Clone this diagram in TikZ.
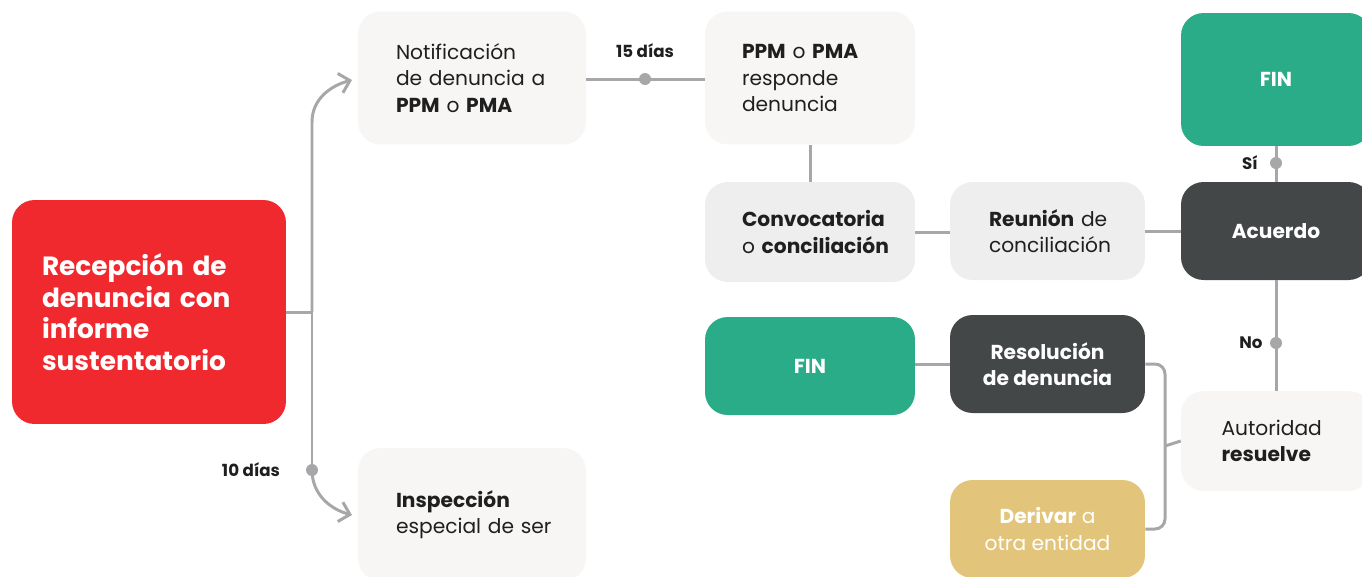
\documentclass[tikz,border=0pt]{standalone}
\usepackage{fontspec}
\setmainfont{Poppins}
\usepackage{xcolor}
\definecolor{flowRed}{HTML}{F0292E}
\definecolor{flowGreen}{HTML}{2BAC88}
\definecolor{flowDark}{HTML}{434748}
\definecolor{flowGold}{HTML}{E2C47A}
\definecolor{flowLight}{HTML}{F7F6F4}
\definecolor{flowMist}{HTML}{EFEEEE}
\definecolor{flowLine}{HTML}{A7A7AA}
\definecolor{flowText}{HTML}{1F1F1F}
\usepackage{tikz}
\usetikzlibrary{arrows.meta,positioning,calc}
\tikzset{
    stage/.style={
        rectangle,
        rounded corners=0.45cm,
        inner sep=0pt,
        align=left,
        text=flowText,
        execute at begin node={\hyphenpenalty=10000},
        font=\fontsize{11.5}{15}\selectfont
    },
    light/.style={stage, fill=flowLight},
    mist/.style={stage, fill=flowMist},
    dark/.style={stage, fill=flowDark, text=white, align=center, font=\fontsize{11.5}{15}\selectfont\bfseries},
    finbox/.style={stage, fill=flowGreen, text=white, align=center, font=\fontsize{11.5}{15}\selectfont\bfseries},
    link/.style={
        line width=1.7pt,
        color=flowLine
    },
    arrow/.style={
        link,
        -{Straight Barb[length=0.2cm,width=0.4cm,line width=1.7pt]}
    },
    stop/.style={
        circle,
        fill=flowLine,
        inner sep=0pt,
        minimum size=0.24cm
    },
    daylabel/.style={
        font=\fontsize{9.5}{11}\selectfont\bfseries,
        text=flowText
    }
}

\begin{document}
\begin{tikzpicture}[x=0.02cm,y=-0.02cm]
    \useasboundingbox (0,0) rectangle (1362,576);
    \clip (0,0) rectangle (1362,576);

    % Start of the process
    \node[stage, fill=flowRed, text=white, minimum width=5.48cm, minimum height=4.48cm,
          text width=4.28cm, font=\fontsize{15}{18}\selectfont\bfseries]
        (recep) at (149,312) {Recepción~de\\denuncia~con\\informe\\sustentatorio};

    % Two branches
    \node[light, minimum width=4.56cm, minimum height=2.66cm, text width=3.04cm]
        (notif) at (472,78) {Notificación\\de~denuncia~a\\\textbf{PPM}~o~\textbf{PMA}};
    \node[light, minimum width=4.56cm, minimum height=2.66cm, text width=3.04cm]
        (insp) at (472,514.5) {\textbf{Inspección}\\especial~de~ser};

    % Conciliation path
    \node[light, minimum width=4.2cm, minimum height=2.66cm, text width=2.72cm]
        (resp) at (810,78) {\textbf{PPM}~o~\textbf{PMA}\\responde\\denuncia};
    \node[mist, minimum width=4.2cm, minimum height=2cm, text width=2.72cm]
        (conv) at (810,232) {\textbf{Convocatoria}\\o~\textbf{conciliación}};
    \node[mist, minimum width=3.9cm, minimum height=1.96cm, text width=2.34cm]
        (reun) at (1047.5,231) {\textbf{Reunión}~de\\conciliación};
    \node[dark, minimum width=3.8cm, minimum height=1.96cm]
        (acuer) at (1276,231) {Acuerdo};
    \node[finbox, minimum width=3.8cm, minimum height=2.66cm]
        (fintop) at (1276,79.5) {FIN};

    % Authority path
    \node[light, minimum width=3.8cm, minimum height=2cm, text width=2.18cm]
        (autor) at (1276,441) {Autoridad\\\textbf{resuelve}};
    \node[dark, minimum width=3.9cm, minimum height=1.96cm]
        (resol) at (1047.5,364) {Resolución\\de denuncia};
    \node[finbox, minimum width=4.2cm, minimum height=1.96cm]
        (finlow) at (810,366) {FIN};
    \node[stage, fill=flowGold, text=white, align=center, minimum width=3.9cm, minimum height=1.96cm]
        (deriv) at (1047.5,529) {\textbf{Derivar} a\\otra entidad};

    % Junction points
    \coordinate (trunk) at (312,312);
    \coordinate (intop) at (352,80);
    \coordinate (inlow) at (352,515);
    \node[stop] (dlow) at (312,470) {};
    \node[stop] (dmid) at (645,79) {};
    \node[stop] (dsi) at (1276,163) {};
    \node[stop] (dno) at (1276,343) {};
    \coordinate (brk) at (1165,446);

    % Connections
    \draw[link] (recep.east) -- (trunk);
    \draw[arrow] (trunk) -- (312,122) to[out=90,in=195] (intop);
    \draw[link] (trunk) -- (dlow.center);
    \draw[arrow] (dlow.center) to[out=-90,in=165] (inlow);
    \draw[link] (notif.east |- dmid) -- (resp.west |- dmid);
    \draw[link] (resp.south) -- (conv.north);
    \draw[link] (conv.east) -- (reun.west |- conv.east);
    \draw[link] (reun.east) -- (acuer.west);
    \draw[link] (acuer.north) -- (fintop.south);
    \draw[link] (acuer.south) -- (autor.north);
    \draw[link] (resol.west) -- (finlow.east |- resol.west);
    \draw[link, rounded corners=0.2cm] (resol.east) -| (brk) |- (deriv.east);
    \draw[link] (autor.west) -- (brk);

    % Labels
    \node[daylabel] (l15) at (645,51) {15 días};
    \node[daylabel] (l10) at (251,470) {10 días};
    \node[daylabel] (lsi) at (1250,163) {Sí};
    \node[daylabel] (lno) at (1251,343) {No};
\end{tikzpicture}
\end{document}
